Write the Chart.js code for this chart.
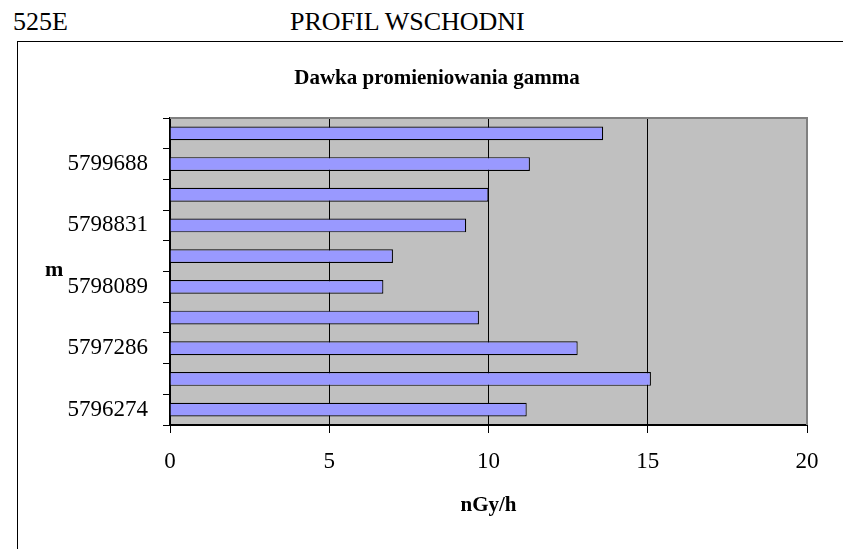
<!DOCTYPE html>
<html>
<head>
<meta charset="utf-8">
<script src="https://cdn.jsdelivr.net/npm/chart.js@4.4.1/dist/chart.umd.min.js"></script>
<style>
  html, body { margin: 0; padding: 0; background: #fff; }
  body { width: 843px; height: 549px; position: relative; overflow: hidden; font-family: 'Liberation Serif', 'Times New Roman', serif; }
  #c { position: absolute; left: 0; top: 0; }
  .t { position: absolute; white-space: nowrap; color: #000; }
  #frame { position: absolute; left: 17px; top: 41px; width: 900px; height: 600px; border-top: 1px solid #000; border-left: 1px solid #000; }
</style>
</head>
<body>
<div class="t" style="left:13px; top:9px; font-size:26px; line-height:26px;">525E</div>
<div class="t" style="left:290px; top:9px; font-size:26px; line-height:26px;">PROFIL WSCHODNI</div>
<div id="frame"></div>
<canvas id="c" width="843" height="549"></canvas>
<div class="t" style="left:45px; top:258px; font-size:22px; line-height:22px; font-weight:bold;">m</div>
<script>
// Categories listed from the bottom of the chart upwards (only every other one is labelled)
const categories = ['5796274', '', '5797286', '', '5798089', '', '5798831', '', '5799688', ''];
const doseValues = [11.2, 15.1, 12.8, 9.7, 6.7, 7.0, 9.3, 10.0, 11.3, 13.6];
const xTicks = [0, 5, 10, 15, 20];
const chartTitle = 'Dawka promieniowania gamma';
const xTitle = 'nGy/h';

const serif = "'Liberation Serif', 'Times New Roman', serif";

const plotBg = {
  id: 'plotBg',
  beforeDraw(chart) {
    const {ctx, chartArea: a} = chart;
    ctx.save();
    ctx.fillStyle = '#C0C0C0';
    ctx.fillRect(a.left, a.top, a.right - a.left, a.bottom - a.top);
    ctx.restore();
  },
  afterDatasetsDraw(chart) {
    const {ctx, chartArea: a} = chart;
    ctx.save();
    ctx.strokeStyle = '#808080';
    ctx.lineWidth = 2;
    ctx.beginPath();
    ctx.moveTo(a.left, a.top);
    ctx.lineTo(a.right, a.top);
    ctx.lineTo(a.right, a.bottom);
    ctx.stroke();
    ctx.restore();
  }
};

new Chart(document.getElementById('c'), {
  type: 'bar',
  data: {
    labels: categories,
    datasets: [{
      data: doseValues,
      backgroundColor: '#9999FF',
      borderColor: '#000000',
      borderWidth: 1.2,
      barPercentage: 0.45,
      categoryPercentage: 1.0
    }]
  },
  options: {
    indexAxis: 'y',
    responsive: false,
    animation: false,
    devicePixelRatio: 1,
    layout: { padding: { left: 67, right: 36, top: 0, bottom: 31 } },
    plugins: {
      legend: { display: false },
      tooltip: { enabled: false },
      title: {
        display: true,
        text: chartTitle,
        color: '#000',
        font: { family: serif, size: 21, weight: 'bold' },
        padding: { top: 66, bottom: 26.8 }
      }
    },
    scales: {
      x: {
        type: 'linear',
        min: 0,
        max: 20,
        afterBuildTicks(scale) { scale.ticks = xTicks.map(v => ({ value: v })); },
        afterFit(scale) { scale.height = 93; },
        ticks: {
          color: '#000',
          font: { family: serif, size: 23 },
          padding: 15
        },
        grid: {
          color: ctx => (ctx.tick && (ctx.tick.value === 0 || ctx.tick.value === 20)) ? 'rgba(0,0,0,0)' : '#000',
          tickColor: '#000',
          lineWidth: 1,
          tickLength: 8
        },
        border: { color: '#000', width: 2 },
        title: {
          display: true,
          text: xTitle,
          color: '#000',
          font: { family: serif, size: 21, weight: 'bold' },
          padding: 0
        }
      },
      y: {
        reverse: true,
        afterFit(scale) { scale.width = 103; },
        ticks: {
          color: '#000',
          autoSkip: false,
          font: { family: serif, size: 23 },
          padding: 15
        },
        grid: {
          drawOnChartArea: false,
          color: '#000',
          tickColor: '#000',
          tickLength: 7,
          offset: true
        },
        border: { color: '#000', width: 2 }
      }
    }
  },
  plugins: [plotBg]
});
</script>
</body>
</html>
